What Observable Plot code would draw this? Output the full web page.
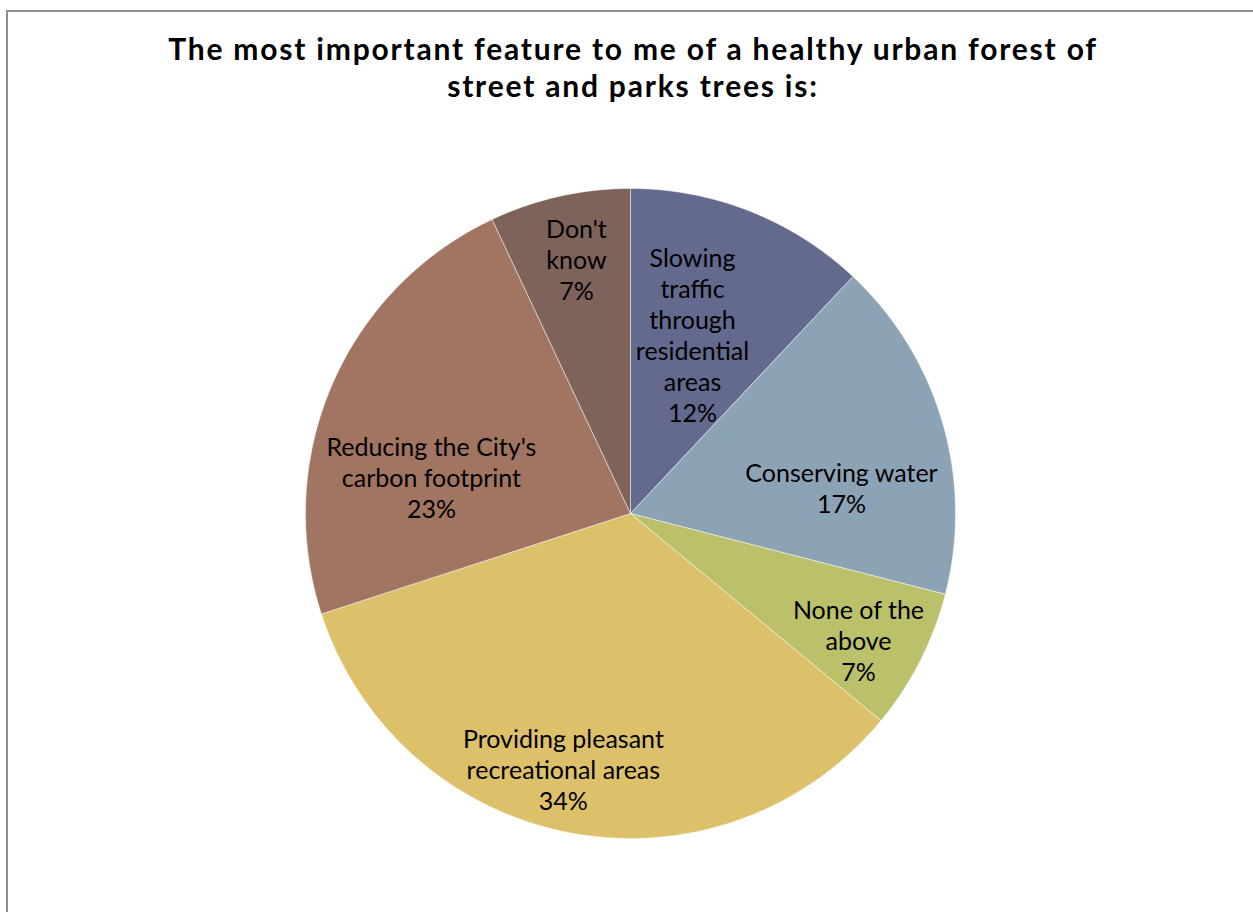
<!DOCTYPE html>
<html>
<head>
<meta charset="utf-8">
<script src="https://cdn.jsdelivr.net/npm/d3@7"></script>
<script src="https://cdn.jsdelivr.net/npm/@observablehq/plot@0.6"></script>
<style>
  html, body { margin: 0; padding: 0; background: #fff; }
  body { width: 1253px; height: 912px; overflow: hidden; position: relative; font-family: Lato, "Open Sans", sans-serif; }
  #frame { position: absolute; left: 6px; top: 10px; width: 1300px; height: 1000px; border: 2px solid #8e8e8e; box-sizing: border-box; }
  #title { position: absolute; top: 30px; left: 0; width: 1266px; text-align: center; font-weight: 700; font-size: 30px; letter-spacing: 1.8px; line-height: 37px; color: #000; }
  #chart { position: absolute; top: 130px; left: 0; }
</style>
</head>
<body>
<div id="frame"></div>
<div id="title">The most important feature to me of a healthy urban forest of<br>street and parks trees is:</div>
<div id="chart"></div>
<script>
// Data (clockwise from 12 o'clock)
const categories = [
  "Slowing traffic through residential areas",
  "Conserving water",
  "None of the above",
  "Providing pleasant recreational areas",
  "Reducing the City's carbon footprint",
  "Don't know"
];
const values = [12, 17, 7, 34, 23, 7];
const labelLines = [
  "Slowing\ntraffic\nthrough\nresidential\nareas",
  "Conserving water",
  "None of the\nabove",
  "Providing pleasant\nrecreational areas",
  "Reducing the City's\ncarbon footprint",
  "Don't\nknow"
];
const percentLabels = ["12%", "17%", "7%", "34%", "23%", "7%"];

// Style / layout (not data)
const colors = ["#636a8d", "#8ca3b6", "#bbc06b", "#ddc16a", "#a27563", "#7e635a"];
const labelRadius = [0.583, 0.654, 0.802, 0.814, 0.623, 0.80];
const labelAngleNudge = [-2.5, 9.3, 2.0, 3.9, -12.9, 0.6]; // degrees

const pie = d3.pie().sort(null).value(d => d)(values);

// polygon outline of each slice, in unit-circle coordinates
const slicePoints = [];
pie.forEach((p, i) => {
  const step = Math.PI / 720;
  slicePoints.push({cat: categories[i], x: 0, y: 0});
  const n = Math.max(2, Math.ceil((p.endAngle - p.startAngle) / step));
  for (let k = 0; k <= n; k++) {
    const a = p.startAngle + (p.endAngle - p.startAngle) * k / n;
    slicePoints.push({cat: categories[i], x: Math.sin(a), y: Math.cos(a)});
  }
  slicePoints.push({cat: categories[i], x: 0, y: 0});
});

const labelData = pie.map((p, i) => {
  const a = (p.startAngle + p.endAngle) / 2 + labelAngleNudge[i] * Math.PI / 180;
  return {
    x: labelRadius[i] * Math.sin(a),
    y: labelRadius[i] * Math.cos(a),
    text: labelLines[i] + "\n" + percentLabels[i]
  };
});

const chart = Plot.plot({
  width: 1253,
  height: 782,
  marginLeft: 305,
  marginRight: 298,
  marginTop: 58,
  marginBottom: 74,
  x: {domain: [-1, 1], axis: null},
  y: {domain: [-1, 1], axis: null},
  color: {domain: categories, range: colors},
  style: {fontFamily: "Lato, 'Open Sans', sans-serif", background: "transparent"},
  marks: [
    Plot.line(slicePoints, {x: "x", y: "y", z: "cat", fill: "cat", stroke: "#ffffff", strokeWidth: 0.6, strokeOpacity: 0.8, curve: "linear"}),
    Plot.text(labelData, {x: "x", y: "y", text: "text", fontSize: 25, lineHeight: 1.24, fill: "#000"})
  ]
});
document.getElementById("chart").appendChild(chart);
</script>
</body>
</html>
